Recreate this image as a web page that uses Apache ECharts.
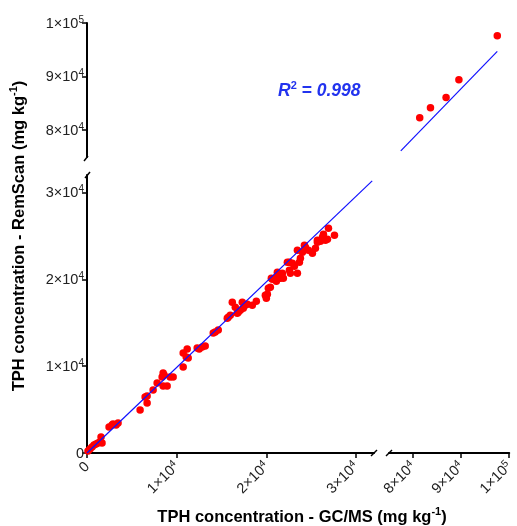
<!DOCTYPE html>
<html>
<head>
<meta charset="utf-8">
<script src="https://cdn.jsdelivr.net/npm/echarts@6/dist/echarts.min.js"></script>
<style>
html,body{margin:0;padding:0;background:#fff;}
#c{width:517px;height:526px;}
</style>
</head>
<body>
<div id="c"></div>
<script>
// ---- data (mg/kg) ----
const gcmsLow = [112,335,559,782,1005,1229,1452,1564,1676,2457,2793,2904,3239,3463,5920,6479,6702,6702,7372,7819,8378,8489,8601,8489,8936,9271,9606,10723,10723,11058,11170,11282,12287,12511,12846,13181,14075,14298,14633,15750,15974,15639,16197,16532,16867,16756,17091,17315,17426,17650,18432,19884,20107,20219,20442,20554,20666,21001,21224,21559,21783,21894,22341,22565,22565,22676,22900,23123,23458,23458,23682,23793,24017,24240,24352,24687,25134,25469,25692,25692,26027,26251,26363,26586,26810,26921,27591,21112,19996,18879,17873];
const remscanLow = [230,460,690,920,1035,1150,1265,1840,1150,3000,3220,3335,3220,3450,4945,6440,5750,6555,7245,8050,8740,9200,8970,7705,7705,8740,8740,9890,11500,11040,11960,10925,12075,11960,12190,12305,13800,13915,14145,15640,15870,15525,17365,16790,16215,16100,16445,17365,16675,17020,17020,18170,18285,18975,19090,20125,20010,20125,20815,20125,20700,20125,21965,21045,21965,20700,21850,21505,23345,20700,21965,22425,23115,23920,23690,23345,23000,23575,24265,24495,24380,24840,25185,24495,24610,25875,25070,19780,17825,17480,17135];
const gcmsHigh = [96150,88650,86150,83100,81000];
const remscanHigh = [97600,89400,86100,84200,82300];
// regression line segments (y = 0.985 x)
const fitLowX = [0, 31800];
const fitLowY = [0, 31320];
const fitHighX = [77300, 96150];
const fitHighY = [76140, 94700];
// ticks
const lowTicks = [0, 10000, 20000, 30000];
const highTicks = [80000, 90000, 100000];
const lowRange = [0, 32000];
const highRange = [75000, 100000];
const r2Text = '0.998';
const xTitle = 'TPH concentration - GC/MS (mg kg';
const yTitle = 'TPH concentration - RemScan (mg kg';

const FONT = '"Liberation Sans", Arial, sans-serif';
function fmt(v){
  if (v === 0) return '{n|0}';
  const e = Math.floor(Math.log10(v) + 1e-9);
  const m = Math.round(v / Math.pow(10, e));
  return '{n|' + m + '×10}{s|' + e + '}';
}
const rich = {
  n:{fontSize:14.5, fontFamily:FONT, color:'#222', lineHeight:16, verticalAlign:'bottom'},
  s:{fontSize:10, fontFamily:FONT, color:'#222', lineHeight:16, verticalAlign:'top'}
};
function visAxis(base, range, ticks, rotate){
  return Object.assign({
    type:'value', min:range[0], max:range[1],
    splitLine:{show:false},
    axisLine:{show:true, onZero:false, lineStyle:{color:'#000', width:2}},
    axisTick:{show:true, inside:false, length:5, lineStyle:{color:'#000', width:1.5}, customValues:ticks},
    axisLabel:{show:true, customValues:ticks, formatter:fmt, rich:rich, margin:rotate?11:3, rotate:rotate||0}
  }, base);
}
function hidAxis(base, range){
  return Object.assign({type:'value', min:range[0], max:range[1], show:false, splitLine:{show:false}}, base);
}

const chart = echarts.init(document.getElementById('c'), null, {renderer:'canvas'});
const G = {L:87, B:453, lowW:287, lowH:278, top:23, highH:134, rL:389, rW:130};
chart.setOption({
  animation:false,
  backgroundColor:'#fff',
  grid:[
    {left:G.L, top:G.B-G.lowH, width:G.lowW, height:G.lowH},
    {left:G.L, top:G.top, width:G.lowW, height:G.highH},
    {left:G.rL, top:G.B-G.lowH, width:G.rW, height:G.lowH},
    {left:G.rL, top:G.top, width:G.rW, height:G.highH}
  ],
  xAxis:[
    visAxis({gridIndex:0}, lowRange, lowTicks, 45),
    hidAxis({gridIndex:1}, lowRange),
    visAxis({gridIndex:2}, highRange, highTicks, 45),
    hidAxis({gridIndex:3}, highRange)
  ],
  yAxis:[
    visAxis({gridIndex:0}, lowRange, lowTicks, 0),
    visAxis({gridIndex:1}, highRange, highTicks, 0),
    hidAxis({gridIndex:2}, lowRange),
    hidAxis({gridIndex:3}, highRange)
  ],
  series:[
    {type:'scatter', xAxisIndex:0, yAxisIndex:0, symbolSize:7.5, itemStyle:{color:'#ff0000', opacity:1},
     data:gcmsLow.map((x,i)=>[x, remscanLow[i]]), z:2},
    {type:'scatter', xAxisIndex:3, yAxisIndex:3, symbolSize:7.5, itemStyle:{color:'#ff0000', opacity:1},
     data:gcmsHigh.map((x,i)=>[x, remscanHigh[i]]), z:2},
    {type:'line', xAxisIndex:0, yAxisIndex:0, symbol:'none', lineStyle:{color:'#1010ff', width:1.2},
     data:fitLowX.map((x,i)=>[x, fitLowY[i]]), z:3},
    {type:'line', xAxisIndex:3, yAxisIndex:3, symbol:'none', lineStyle:{color:'#1010ff', width:1.2},
     data:fitHighX.map((x,i)=>[x, fitHighY[i]]), z:3}
  ],
  graphic:[
    // axis break marks
    {type:'line', shape:{x1:G.L-3, y1:G.top+G.highH+4, x2:G.L+1, y2:G.top+G.highH-1}, style:{stroke:'#000', lineWidth:1.5}},
    {type:'line', shape:{x1:G.L-2, y1:G.B-G.lowH+3, x2:G.L+3, y2:G.B-G.lowH-3}, style:{stroke:'#000', lineWidth:1.5}},
    {type:'line', shape:{x1:G.L+G.lowW-3, y1:G.B+3, x2:G.L+G.lowW+3, y2:G.B-3}, style:{stroke:'#000', lineWidth:1.5}},
    {type:'line', shape:{x1:G.rL-3, y1:G.B+3, x2:G.rL+3, y2:G.B-3}, style:{stroke:'#000', lineWidth:1.5}},
    // R^2 label
    {type:'text', left:278, top:80, style:{
      text:'{r|R}{s|2}{r| = ' + r2Text + '}',
      rich:{
        r:{fontSize:17.5, fontWeight:'bold', fontStyle:'italic', fontFamily:FONT, fill:'#2233ee', lineHeight:20, verticalAlign:'bottom'},
        s:{fontSize:11, fontWeight:'bold', fontFamily:FONT, fill:'#2233ee', lineHeight:20, verticalAlign:'top'}
      }}},
    // axis titles
    {type:'text', x:302, y:516, style:{
      text:'{t|' + xTitle + '}{s|-1}{t|)}', align:'center', verticalAlign:'middle',
      rich:{
        t:{fontSize:16.5, fontWeight:'bold', fontFamily:FONT, fill:'#000', lineHeight:20, verticalAlign:'bottom'},
        s:{fontSize:11, fontWeight:'bold', fontFamily:FONT, fill:'#000', lineHeight:20, verticalAlign:'top'}
      }}},
    {type:'text', x:18, y:236, rotation:Math.PI/2, style:{
      text:'{t|' + yTitle + '}{s|-1}{t|)}', align:'center', verticalAlign:'middle',
      rich:{
        t:{fontSize:16.5, fontWeight:'bold', fontFamily:FONT, fill:'#000', lineHeight:20, verticalAlign:'bottom'},
        s:{fontSize:11, fontWeight:'bold', fontFamily:FONT, fill:'#000', lineHeight:20, verticalAlign:'top'}
      }}}
  ]
});
</script>
</body>
</html>
